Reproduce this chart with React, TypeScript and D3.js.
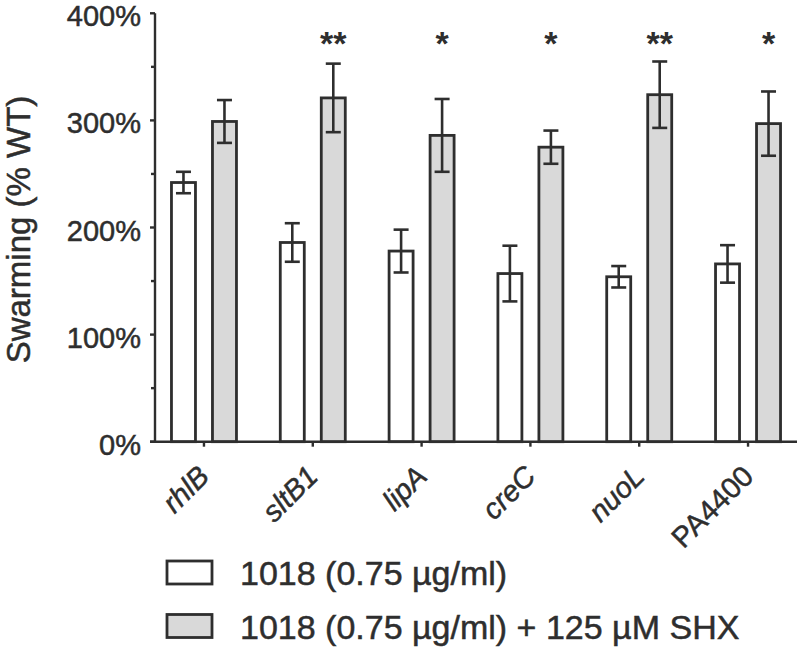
import React from "react";
import * as d3 from "d3";

const categories = ["rhlB", "sltB1", "lipA", "creC", "nuoL", "PA4400"];
const italicCategory = [true, true, true, true, true, false];
const seriesNames = ["1018 (0.75 µg/ml)", "1018 (0.75 µg/ml) + 125 µM SHX"];
const controlValues = [242, 186, 178, 157, 154, 166];
const controlErrors = [10, 18, 20, 26, 10, 17.5];
const shxValues = [299, 321, 286, 275, 324, 297];
const shxErrors = [20, 32, 34, 15.5, 31, 30];
const significance = ["", "**", "*", "*", "**", "*"];
const yTicks = [0, 100, 200, 300, 400];
const yMinorTicks = [50, 150, 250, 350];

const W = 800;
const H = 649;
const FONT = "'Liberation Sans', Arial, Helvetica, sans-serif";
const INK = "#2e2e2e";
const GRAY = "#d9d9d9";
const TXT_STROKE = 0.5;

export default function App() {
  const y = d3.scaleLinear().domain([0, 400]).range([441.7, 13.3]);
  const x = d3.scalePoint<string>().domain(categories).range([155, 797]).padding(0.45);
  const offset = 20.5;
  const barW = 24;
  const series = [
    { values: controlValues, errors: controlErrors, fill: "#ffffff", dx: -offset },
    { values: shxValues, errors: shxErrors, fill: GRAY, dx: offset },
  ];
  const capHalf = 7.5;

  return (
    <svg
      width={W}
      height={H}
      style={{ position: "absolute", left: 0, top: 0, background: "#fff" }}
      fontFamily={FONT}
    >
      {/* bars and error bars */}
      {series.map((s, si) =>
        categories.map((c, i) => {
          const cx = (x(c) as number) + s.dx;
          const v = s.values[i];
          const e = s.errors[i];
          return (
            <g key={`${si}-${c}`}>
              <rect
                x={cx - barW / 2}
                y={y(v)}
                width={barW}
                height={y(0) - y(v)}
                fill={s.fill}
                stroke={INK}
                strokeWidth={2.8}
              />
              <line x1={cx} x2={cx} y1={y(v + e)} y2={y(v - e)} stroke={INK} strokeWidth={2.6} />
              <line x1={cx - capHalf} x2={cx + capHalf} y1={y(v + e)} y2={y(v + e)} stroke={INK} strokeWidth={2.6} />
              <line x1={cx - capHalf} x2={cx + capHalf} y1={y(v - e)} y2={y(v - e)} stroke={INK} strokeWidth={2.6} />
            </g>
          );
        })
      )}

      {/* significance stars */}
      {categories.map((c, i) =>
        significance[i] ? (
          <text
            key={`sig-${c}`}
            x={(x(c) as number) + offset}
            y={55}
            textAnchor="middle"
            fontSize={34}
            fontWeight="bold"
            fill={INK}
          >
            {significance[i]}
          </text>
        ) : null
      )}

      {/* y axis */}
      <line x1={155} x2={155} y1={y(400)} y2={y(0)} stroke={INK} strokeWidth={2.4} />
      {yTicks.map((t) => (
        <g key={`yt-${t}`}>
          <line x1={150} x2={155} y1={y(t)} y2={y(t)} stroke={INK} strokeWidth={2.4} />
          <text
            x={141}
            y={y(t) + 13}
            textAnchor="end"
            fontSize={29}
            fill={INK}
            stroke={INK}
            strokeWidth={TXT_STROKE}
          >
            {`${t}%`}
          </text>
        </g>
      ))}
      {yMinorTicks.map((t) => (
        <line key={`ym-${t}`} x1={151} x2={155} y1={y(t)} y2={y(t)} stroke={INK} strokeWidth={2.4} />
      ))}
      <text
        transform={`translate(30, ${(y(400) + y(0)) / 2 + 2}) rotate(-90)`}
        textAnchor="middle"
        fontSize={33}
        fill={INK}
        stroke={INK}
        strokeWidth={TXT_STROKE}
      >
        Swarming (% WT)
      </text>

      {/* x axis */}
      <line x1={150} x2={797} y1={y(0)} y2={y(0)} stroke={INK} strokeWidth={2.4} />
      {categories.map((c, i) => {
        const cx = x(c) as number;
        return (
          <g key={`xt-${c}`}>
            <line x1={cx} x2={cx} y1={y(0)} y2={y(0) + 5} stroke={INK} strokeWidth={2.4} />
            <text
              transform={`translate(${cx + 7}, ${478}) rotate(-45)`}
              textAnchor="end"
              fontSize={29}
              fontStyle={italicCategory[i] ? "italic" : "normal"}
              fill={INK}
              stroke={INK}
              strokeWidth={TXT_STROKE}
            >
              {c}
            </text>
          </g>
        );
      })}

      {/* legend */}
      {seriesNames.map((name, i) => {
        const top = 561 + i * 53.5;
        return (
          <g key={`lg-${i}`}>
            <rect
              x={167}
              y={top}
              width={45}
              height={23}
              fill={i === 0 ? "#ffffff" : GRAY}
              stroke={INK}
              strokeWidth={2.8}
            />
            <text
              x={240}
              y={top + 24}
              fontSize={34}
              fill={INK}
              stroke={INK}
              strokeWidth={TXT_STROKE}
            >
              {name}
            </text>
          </g>
        );
      })}
    </svg>
  );
}
